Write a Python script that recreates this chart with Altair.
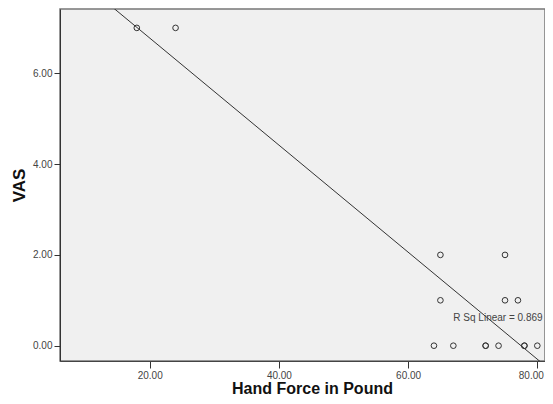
import altair as alt
import pandas as pd

# Data
hand_force = [18, 24, 65, 75, 65, 75, 77, 64, 67, 72, 72, 74, 78, 78, 80]
vas = [7, 7, 2, 2, 1, 1, 1, 0, 0, 0, 0, 0, 0, 0, 0]

x_domain = [6.11, 81.19]
y_domain = [-0.337, 7.416]
x_ticks = [20, 40, 60, 80]
y_ticks = [0, 2, 4, 6]
label_pos = [67.0, 0.6]

df = pd.DataFrame({"force": hand_force, "vas": vas})

xs = alt.Scale(domain=x_domain, nice=False, zero=False)
ys = alt.Scale(domain=y_domain, nice=False, zero=False)

x_axis = alt.Axis(values=x_ticks, format=".2f", title="Hand Force in Pound",
                  grid=False, tickSize=7, labelFontSize=10, labelColor="#444",
                  labelPadding=2, labelFlush=10, labelFlushOffset=6,
                  labelFont="Liberation Sans", titleFont="Liberation Sans",
                  titleFontSize=16, titleFontWeight="bold", titleColor="#111",
                  titleBaseline="alphabetic", titleY=32,
                  domainColor="#444", tickColor="#333",
                  titleX=252)
y_axis = alt.Axis(values=y_ticks, format=".2f", title="VAS", grid=False,
                  tickSize=6, labelFontSize=10, labelColor="#444",
                  labelFont="Liberation Sans", titleFont="Liberation Sans",
                  titleFontSize=17, titleFontWeight="bold", titleColor="#111",
                  titlePadding=4, domainColor="#333", tickColor="#333")

base = alt.Chart(df)

points = base.mark_point(shape="circle", filled=False, size=32, color="#333",
                         strokeWidth=1, opacity=1).encode(
    x=alt.X("force:Q", scale=xs, axis=x_axis),
    y=alt.Y("vas:Q", scale=ys, axis=y_axis),
)

line = base.transform_regression("force", "vas", extent=x_domain).mark_line(
    color="#333", strokeWidth=1, clip=True
).encode(
    x=alt.X("force:Q", scale=xs),
    y=alt.Y("vas:Q", scale=ys),
)

label = base.transform_regression("force", "vas", params=True).transform_calculate(
    txt="'R Sq Linear = ' + format(datum.rSquared, '.3f')",
    lx=str(label_pos[0]),
    ly=str(label_pos[1]),
).mark_text(align="left", baseline="middle", fontSize=10, color="#444",
            font="Liberation Sans").encode(
    x=alt.X("lx:Q", scale=xs),
    y=alt.Y("ly:Q", scale=ys),
    text="txt:N",
)

chart = alt.layer(points, line, label).properties(
    width=485, height=352,
    background="white",
    autosize=alt.AutoSizeParams(type="none"),
    padding={"left": 52, "top": 1, "right": 0, "bottom": 35},
).configure_view(
    fill="#f0f0f0", stroke="#777", strokeWidth=1.5
)

chart.save("out.html", embed_options={"renderer": "svg", "actions": False})
